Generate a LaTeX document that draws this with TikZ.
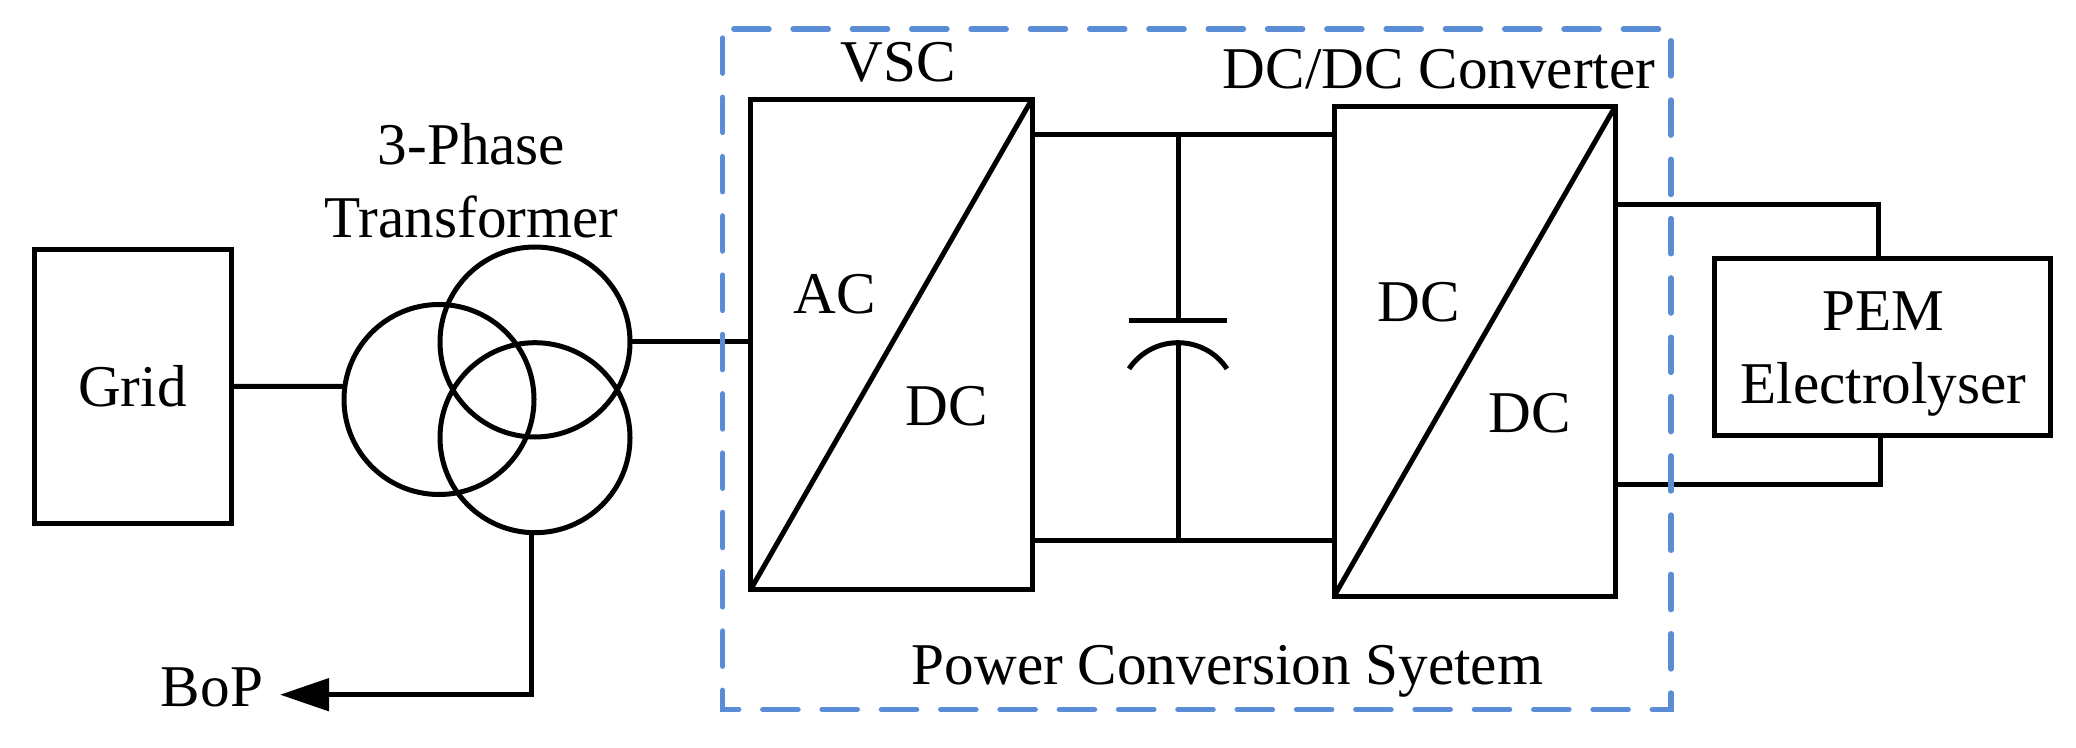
\documentclass[tikz,border=0pt]{standalone}
\usepackage{fontspec}
\setmainfont{Liberation Serif}
\usetikzlibrary{arrows.meta}

\tikzset{
  wire/.style={line width=2.5pt},
  blockbox/.style={draw,line width=2.5pt,rectangle,inner sep=0pt,outer sep=0pt,align=center},
  winding/.style={draw,line width=2.5pt,circle,inner sep=0pt,outer sep=0pt,minimum size=95pt},
  labeltext/.style={inner sep=0pt,outer sep=0pt,anchor=base,align=center},
  dashbox/.style={draw={rgb, 255:red, 91; green, 141; blue, 214},line width=2.7pt,line cap=round,dash pattern=on 17.6pt off 12.05pt}
}

\begin{document}
\begin{tikzpicture}[x=0.5pt,y=-0.5pt,font=\fontsize{29.6}{36.3}\selectfont]
\useasboundingbox (0,0) rectangle (2076,748);

% Blocks
\node[blockbox,minimum width=98.5pt,minimum height=136.95pt] (grid) at (132.5,386.5) {Grid};
\node[blockbox,minimum width=140.75pt,minimum height=245.25pt] (vsc) at (891.25,344.5) {};
\node[blockbox,minimum width=140.5pt,minimum height=244.75pt] (dcdc) at (1474.5,351.6) {};
\node[blockbox,minimum width=168pt,minimum height=88.75pt] (pem) at (1882,346.85) {};

% Transformer windings
\node[winding] (xfleft) at (439,399.5) {};
\node[winding] (xftop) at (535,342) {};
\node[winding] (xfbot) at (535,437.7) {};

% Text Node
\node[labeltext] (xflabel) at (471.5,237.1) {3-Phase\\Transformer};
\node[labeltext,inner xsep=8.5pt] (bop) at (212,706) {BoP};
\node[labeltext] (vsclabel) at (898,81.1) {VSC};
\node[labeltext] (vscac) at (835,313.5) {AC};
\node[labeltext] (vscdc) at (946.5,425.6) {DC};
\node[labeltext] (dcdclabel) at (1439,88.3) {DC/DC Converter};
\node[labeltext] (dcdcin) at (1418.5,321.1) {DC};
\node[labeltext] (dcdcout) at (1530,432.7) {DC};
\node[labeltext] (pemlabel) at (1883.4,403) {PEM\\Electrolyser};
\node[labeltext] (pcslabel) at (1227.5,684.6) {Power Conversion Syetem};

% Free ends
\coordinate (dcplus) at (1178,134.5);
\coordinate (dcminus) at (1178,540.5);
\coordinate (capplate) at (1178,320.6);
\coordinate (capbow) at (1178,342.6);
\coordinate (outplus) at (1878,204.2);
\coordinate (outminus) at (1880,484.3);
\coordinate (bopbend) at (531,694.7);

% Diagonals
\draw[wire] (vsc.south west) -- (vsc.north east);
\draw[wire] (dcdc.south west) -- (dcdc.north east);

% Connectors
\draw[wire] (grid.east) -- (xfleft.172);
\draw[wire] (xftop.east) -- (xftop.east -| vsc.west);
\draw[wire,-{Triangle[length=24.5pt,width=16pt]}] (xfbot.south -| bopbend) -- (bopbend) -- (bopbend -| bop.east);
\draw[wire] (dcplus -| vsc.east) -- (dcplus -| dcdc.west);
\draw[wire] (dcminus -| vsc.east) -- (dcminus -| dcdc.west);
\draw[wire] (outplus -| dcdc.east) -- (outplus) -- (outplus |- pem.north);
\draw[wire] (outminus -| dcdc.east) -- (outminus) -- (outminus |- pem.south);

% Capacitor
\draw[wire] (dcplus) -- (capplate);
\draw[wire] (1129,320.6) -- (1227,320.6);
\draw[wire] (1129,368.8) .. controls (1152.5,334) and (1203.5,334) .. (1227,368.8);
\draw[wire] (capbow) -- (dcminus);

% Dashed frame
\draw[dashbox] (733.8,29.1) -- (1671,29.1) -- (1671,709.5) -- (722.7,709.5) -- (722.7,32);

\end{tikzpicture}
\end{document}
